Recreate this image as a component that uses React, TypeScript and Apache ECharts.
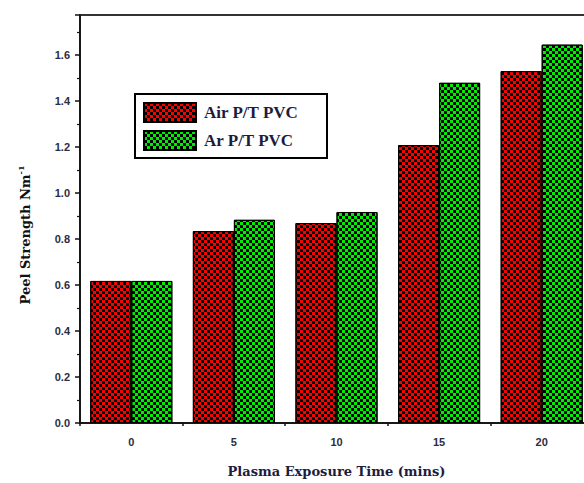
import React, { useEffect, useRef } from "react";
import * as echarts from "echarts";

const categories = ["0", "5", "10", "15", "20"];
const airValues = [0.618, 0.835, 0.87, 1.209, 1.531];
const arValues = [0.618, 0.884, 0.918, 1.48, 1.646];
const seriesNames = ["Air P/T PVC", "Ar P/T PVC"];

const makeDecal = () => ({
  symbol: "rect",
  symbolSize: 1,
  color: "#000000",
  dashArrayX: [
    [3, 3],
    [0, 3, 3, 0],
  ],
  dashArrayY: [3, 0],
  rotation: 0,
});

export default function App() {
  const ref = useRef<HTMLDivElement>(null);
  useEffect(() => {
    document.body.style.margin = "0";
    const chart = echarts.init(ref.current!, null, { renderer: "svg" });
    const labelStyle = {
      fontFamily: "Liberation Sans, Arial, sans-serif",
      fontWeight: "bold" as const,
      fontSize: 11,
      color: "#2c2c44",
    };
    chart.setOption({
      animation: false,
      backgroundColor: "#ffffff",
      grid: {
        left: 80,
        top: 15,
        width: 513,
        height: 408,
        containLabel: false,
        outerBoundsMode: "none",
        show: true,
        borderColor: "#333",
        borderWidth: 2,
        backgroundColor: "transparent",
      },
      legend: {
        orient: "vertical",
        left: 143,
        top: 102,
        padding: 0,
        icon: "rect",
        itemWidth: 52,
        itemHeight: 19,
        itemGap: 7,
        data: seriesNames,
        textStyle: {
          fontFamily: "Liberation Serif, Times New Roman, serif",
          fontWeight: "bold",
          fontSize: 17,
          color: "#1c1c3c",
          padding: [0, 0, 0, 3],
        },
      },
      graphic: [
        {
          type: "rect",
          shape: { x: 135, y: 94, width: 192, height: 64 },
          style: { fill: "none", stroke: "#000", lineWidth: 2 },
          z: 1,
        },
        {
          type: "text",
          x: 25,
          y: 235,
          rotation: Math.PI / 2,
          style: {
            text: "{a|Peel Strength Nm}{s|-1}",
            align: "center",
            verticalAlign: "middle",
            rich: {
              a: {
                fontFamily: "DejaVu Serif, serif",
                fontWeight: "bold",
                fontSize: 13,
                fill: "#111",
              },
              s: {
                fontFamily: "DejaVu Serif, serif",
                fontWeight: "bold",
                fontSize: 8,
                fill: "#111",
                verticalAlign: "top",
                padding: [0, 0, 8, 0],
              },
            },
          },
        },
      ],
      xAxis: [
        {
          type: "category",
          data: categories,
          position: "bottom",
          axisLine: { lineStyle: { color: "#111", width: 1.5 } },
          axisTick: { alignWithLabel: true, length: 8, lineStyle: { color: "#111", width: 1.5 } },
          axisLabel: { ...labelStyle, margin: 13 },
          name: "Plasma Exposure Time (mins)",
          nameLocation: "middle",
          nameGap: 42,
          nameTextStyle: {
            fontFamily: "DejaVu Serif, serif",
            fontWeight: "bold",
            fontSize: 13,
            color: "#1c1c3c",
          },
          splitLine: { show: false },
        },
        {
          type: "value",
          min: 0,
          max: 5,
          interval: 1,
          position: "bottom",
          axisLine: { show: false },
          axisTick: { show: true, length: 3, lineStyle: { color: "#111", width: 1.5 } },
          axisLabel: { show: false },
          splitLine: { show: false },
        },
      ],
      yAxis: {
        type: "value",
        min: 0,
        max: 1.775,
        interval: 0.2,
        axisLine: { show: true, lineStyle: { color: "#111", width: 1.5 } },
        axisTick: { show: true, length: 5, lineStyle: { color: "#111", width: 1.5 } },
        minorTick: { show: true, splitNumber: 2, length: 3, lineStyle: { color: "#111", width: 1.2 } },
        axisLabel: {
          ...labelStyle,
          margin: 10,
          showMaxLabel: false,
          formatter: (v: number) => (Math.abs(v / 0.2 - Math.round(v / 0.2)) < 1e-6 ? v.toFixed(1) : ""),
        },
        splitLine: { show: false },
      },
      series: [
        {
          name: seriesNames[0],
          type: "bar",
          xAxisIndex: 0,
          data: airValues,
          barGap: "0%",
          barCategoryGap: "20%",
          itemStyle: { color: "#ff0000", borderColor: "#000", borderWidth: 1, decal: makeDecal() },
        },
        {
          name: seriesNames[1],
          type: "bar",
          xAxisIndex: 0,
          data: arValues,
          barGap: "0%",
          barCategoryGap: "20%",
          itemStyle: { color: "#00ee00", borderColor: "#000", borderWidth: 1, decal: makeDecal() },
        },
      ],
    });
    return () => chart.dispose();
  }, []);
  return <div ref={ref} style={{ width: 584, height: 483 }} />;
}
